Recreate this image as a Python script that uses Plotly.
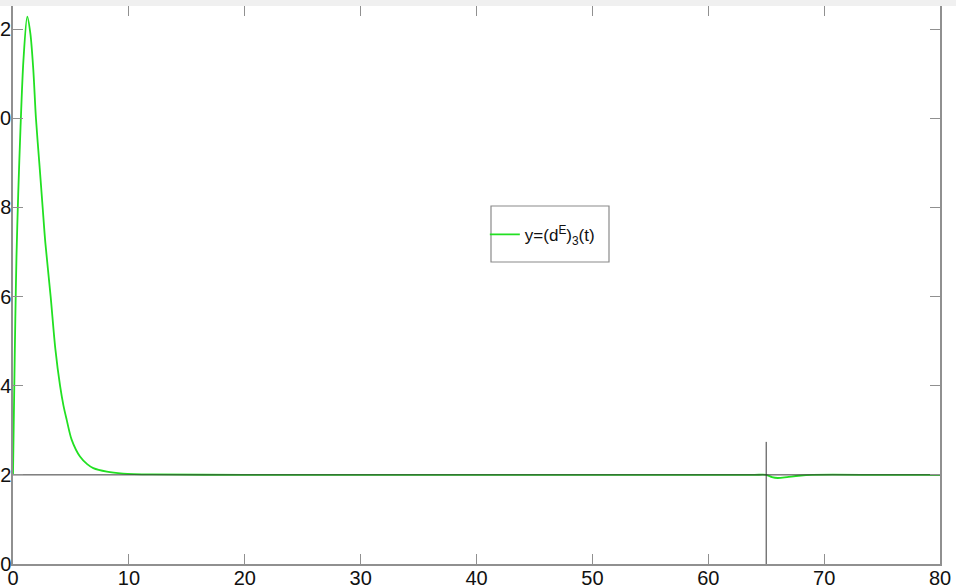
import plotly.graph_objects as go

# Response y = (d^E)_3(t): sampled points of the simulated trajectory
t_vals = [0, 0.1, 0.2, 0.3, 0.45, 0.65, 0.9, 1.23, 1.5, 1.75, 1.98, 2.3,
          2.56, 2.79, 3.25, 3.65, 4.06, 4.35, 4.63, 5.06, 5.78, 6.4, 6.93, 8.1,
          9.5, 12, 20, 30, 40, 50, 60, 64, 65, 65.5, 66, 66.8, 67.8, 69, 75, 80]
y_vals = [2.0, 3.8, 5.5, 6.9, 8.3, 9.8, 11.3, 12.28, 11.9, 11.1, 10.0, 8.9,
          8.0, 7.21, 6.0, 4.84, 4.0, 3.56, 3.24, 2.79, 2.41, 2.24, 2.15, 2.07,
          2.03, 2.01, 2.0, 2.0, 2.0, 2.0, 2.0, 2.0, 2.0, 1.95, 1.93, 1.95, 1.98, 2.0, 2.0, 2.0]

# Reference level and switching instant
ref_t = [0, 80]
ref_y = [2, 2]
switch_t = [65, 65]
switch_y = [0, 2.74]

x_ticks = [0, 10, 20, 30, 40, 50, 60, 70, 80]
y_ticks = [0, 2, 4, 6, 8, 10, 12]

fig = go.Figure()
fig.add_trace(go.Scatter(x=t_vals, y=y_vals, mode="lines",
                         line=dict(color="#22e022", width=1.8, shape="spline", smoothing=0.8),
                         name="y=(d<sup>E</sup>)<sub>3</sub>(t)"))
fig.add_trace(go.Scatter(x=ref_t, y=ref_y, mode="lines",
                         line=dict(color="#3a3a3a", width=1), showlegend=False))
fig.add_trace(go.Scatter(x=switch_t, y=switch_y, mode="lines",
                         line=dict(color="#3a3a3a", width=1), showlegend=False))

axis_common = dict(showgrid=False, zeroline=False, showline=True, linecolor="#909090",
                   linewidth=1.5, ticks="inside", ticklen=10, tickcolor="#909090",
                   mirror="ticks", automargin=False,
                   tickfont=dict(family="Liberation Sans, Arial", size=20, color="#111"))

fig.update_layout(
    width=956, height=588,
    margin=dict(l=13, r=16, t=6, b=24),
    paper_bgcolor="white", plot_bgcolor="white",
    xaxis=dict(range=[0, 80], tickvals=x_ticks, ticktext=[str(v) for v in x_ticks],
               ticklabelstandoff=-5, **axis_common),
    yaxis=dict(range=[0, 12.52], tickvals=y_ticks, ticktext=[str(v) for v in y_ticks],
               ticklabelstandoff=-4, **axis_common),
    showlegend=True,
    legend=dict(x=0.509, y=0.622, xanchor="left", yanchor="top",
                bgcolor="rgba(0,0,0,0)", borderwidth=0,
                font=dict(family="Liberation Sans, Arial", size=17, color="#111"),
                itemwidth=30),
    shapes=[
        # legend frame
        dict(type="rect", xref="paper", yref="paper",
             x0=(491 - 13) / 927, x1=(609 - 13) / 927,
             y0=(564 - 262) / 558, y1=(564 - 206) / 558,
             line=dict(color="#8a8a8a", width=1.2), fillcolor="white", layer="below"),
        # top band of the window
        dict(type="rect", xref="paper", yref="paper",
             x0=-0.02, x1=1.02, y0=1.0, y1=1.02,
             line=dict(width=0), fillcolor="#f0f0f0", layer="above"),
    ],
)

fig.write_html("out.html")
